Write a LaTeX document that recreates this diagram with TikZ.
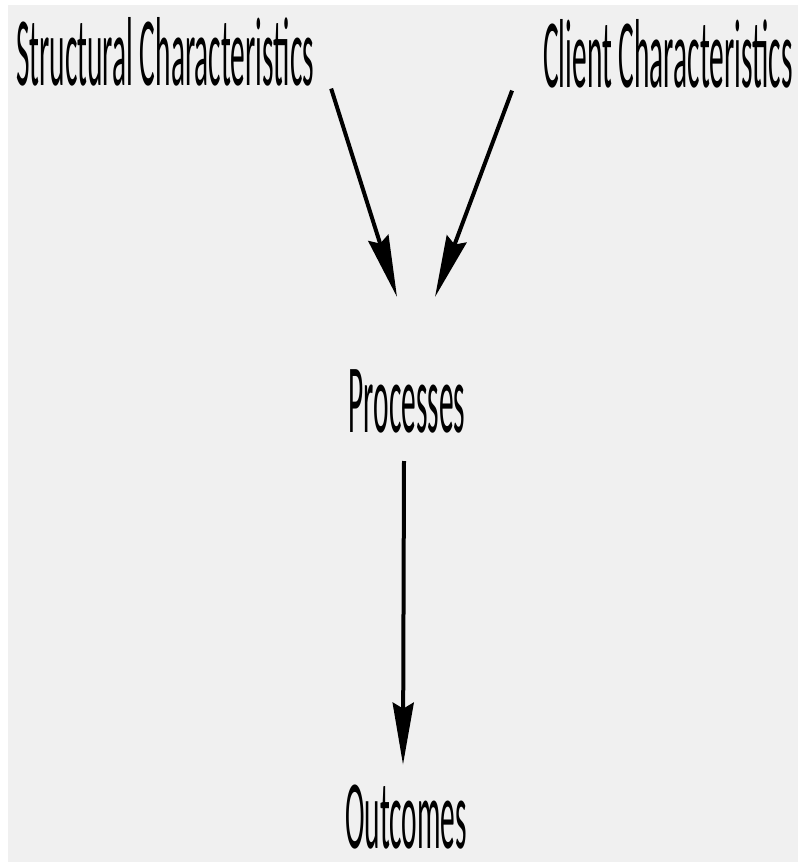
\documentclass[tikz,border=0pt]{standalone}
\usepackage{fontspec}
\setmainfont{Carlito}
\usetikzlibrary{arrows.meta, positioning}
\definecolor{paneltint}{RGB}{240,240,240}
\newcommand{\tallword}[1]{\scalebox{0.30}[1]{#1}}

\begin{document}
\begin{tikzpicture}[
    x=1pt, y=-1pt,
    lbl/.style={inner sep=0pt, anchor=center, font=\fontsize{98}{98}\selectfont},
    arrow/.style={-{Stealth[length=62pt, width=21pt, inset=6pt]}, line width=4pt}
]
    % Canvas
    \fill[white] (0,0) rectangle (798,862);
    \fill[paneltint] (8,5) rectangle (798,862);
    \useasboundingbox (0,0) rectangle (798,862);

    % Inputs
    \node[lbl] (structural) at (165, 52) {\tallword{Structural Characteristics}};
    \node[lbl] (client) at (668, 54) {\tallword{Client Characteristics}};

    % Middle and result
    \node[lbl] (processes) at (407, 401) {\tallword{Processes}};
    \node[lbl] (outcomes) at (406, 817) {\tallword{Outcomes}};

    % Connections
    \draw[arrow] ([xshift=17pt, yshift=-2pt]structural.south east) -- ([xshift=-10pt, yshift=72pt]processes.north);
    \draw[arrow] ([xshift=-31pt, yshift=-2pt]client.south west) -- ([xshift=28pt, yshift=72pt]processes.north);
    \draw[arrow] ([xshift=-3pt, yshift=-28pt]processes.south) -- ([xshift=-3pt, yshift=20pt]outcomes.north);

\end{tikzpicture}
\end{document}
